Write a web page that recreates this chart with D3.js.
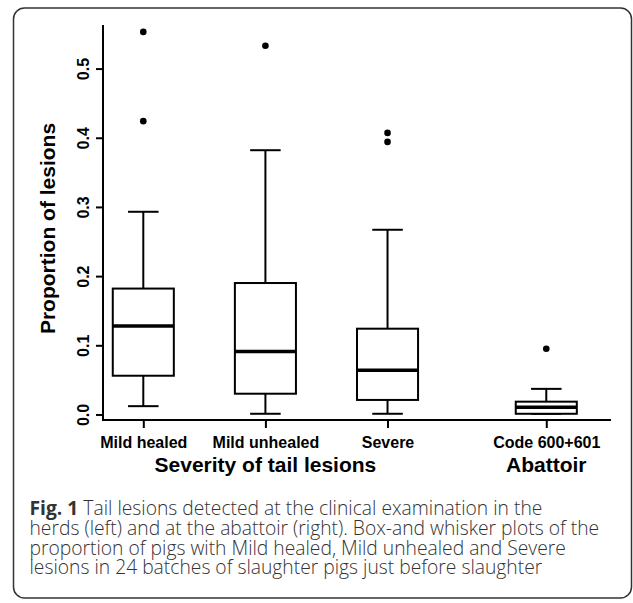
<!DOCTYPE html>
<html>
<head>
<meta charset="utf-8">
<script src="https://cdn.jsdelivr.net/npm/d3@7"></script>
<style>
  body { margin: 0; background: #fff; }
  svg { display: block; }
  .tick text { font-family: "Liberation Sans", Arial, sans-serif; font-weight: bold; }
</style>
</head>
<body>
<div id="chart"></div>
<script>
// data
var categories = ["Mild healed", "Mild unhealed", "Severe", "Code 600+601"];
var positions = [1, 2, 3, 4.3];
var whiskerLow = [0.012, 0.001, 0.001, 0.001];
var q1 = [0.056, 0.030, 0.021, 0.001];
var medians = [0.128, 0.091, 0.064, 0.0104];
var q3 = [0.182, 0.190, 0.124, 0.0185];
var whiskerHigh = [0.293, 0.382, 0.267, 0.037];
var outliers = [[0.553, 0.424], [0.533], [0.407, 0.394], [0.095]];
var yTicks = [0, 0.1, 0.2, 0.3, 0.4, 0.5];
var groupLabels = ["Severity of tail lesions", "Abattoir"];
var groupPositions = [2, 4.3];
var captionLines = [
  "Tail lesions detected at the clinical examination in the",
  "herds (left) and at the abattoir (right). Box-and whisker plots of the",
  "proportion of pigs with Mild healed, Mild unhealed and Severe",
  "lesions in 24 batches of slaughter pigs just before slaughter"
];

var svgWidth = 633;
var svgHeight = 603;
var font = "'Liberation Sans', Arial, sans-serif";

var svg = d3.select("#chart")
  .append("svg")
  .attr("width", svgWidth)
  .attr("height", svgHeight);

// rounded frame round the whole figure
svg.append("rect")
  .attr("x", 13.5)
  .attr("y", 8)
  .attr("width", 618)
  .attr("height", 590)
  .attr("rx", 11)
  .attr("fill", "none")
  .attr("stroke", "#333")
  .attr("stroke-width", 1.5);

// scales
var x = d3.scaleLinear()
  .domain([0.67, 4.83])
  .range([103, 611]);

var y = d3.scaleLinear()
  .domain([-0.008, 0.563])
  .range([420, 25]);

var boxHalf = 0.25;
var capHalf = 0.125;

// L-shaped axis lines
svg.append("path")
  .attr("d", `M${x.range()[0]},${y.range()[1]}V${y.range()[0]}H${x.range()[1]}`)
  .attr("fill", "none")
  .attr("stroke", "#000")
  .attr("stroke-width", 2);

// y axis
var leftAxis = d3.axisLeft(y)
  .tickValues(yTicks)
  .tickFormat(d3.format(".1f"))
  .tickSize(7)
  .tickSizeOuter(0);

var yAxis = svg.append("g")
  .attr("transform", `translate(${x.range()[0]}, 0)`)
  .call(leftAxis);
yAxis.select(".domain").remove();
yAxis.selectAll(".tick line").attr("stroke-width", 2);
yAxis.selectAll(".tick text")
  .attr("x", null)
  .attr("dy", null)
  .attr("text-anchor", "middle")
  .attr("transform", "translate(-14, 0) rotate(-90)")
  .attr("font-size", 16)
  .attr("fill", "#000");

// x axis
var bottomAxis = d3.axisBottom(x)
  .tickValues(positions)
  .tickFormat((d, i) => categories[i])
  .tickSize(8)
  .tickSizeOuter(0);

var xAxis = svg.append("g")
  .attr("transform", `translate(0, ${y.range()[0]})`)
  .call(bottomAxis);
xAxis.select(".domain").remove();
xAxis.selectAll(".tick line").attr("stroke-width", 2);
xAxis.selectAll(".tick text")
  .attr("y", 28)
  .attr("dy", null)
  .attr("font-size", 16)
  .attr("fill", "#000");

// axis titles
svg.append("text")
  .attr("transform", `translate(55, ${(y.range()[0] + y.range()[1]) / 2 + 6}) rotate(-90)`)
  .attr("text-anchor", "middle")
  .attr("font-family", font)
  .attr("font-weight", "bold")
  .attr("font-size", 21)
  .text("Proportion of lesions");

svg.selectAll(".group-label")
  .data(groupLabels)
  .enter()
  .append("text")
  .attr("class", "group-label")
  .attr("x", (d, i) => x(groupPositions[i]))
  .attr("y", 472)
  .attr("text-anchor", "middle")
  .attr("font-family", font)
  .attr("font-weight", "bold")
  .attr("font-size", 21)
  .text(d => d);

// boxes
var boxes = svg.selectAll(".box")
  .data(categories)
  .enter()
  .append("g")
  .attr("class", "box")
  .attr("fill", "none")
  .attr("stroke", "#000")
  .attr("stroke-width", 2);

// whiskers
boxes.append("line")
  .attr("x1", (d, i) => x(positions[i]))
  .attr("x2", (d, i) => x(positions[i]))
  .attr("y1", (d, i) => y(q3[i]))
  .attr("y2", (d, i) => y(whiskerHigh[i]));
boxes.append("line")
  .attr("x1", (d, i) => x(positions[i]))
  .attr("x2", (d, i) => x(positions[i]))
  .attr("y1", (d, i) => y(q1[i]))
  .attr("y2", (d, i) => y(whiskerLow[i]));
boxes.append("line")
  .attr("x1", (d, i) => x(positions[i] - capHalf))
  .attr("x2", (d, i) => x(positions[i] + capHalf))
  .attr("y1", (d, i) => y(whiskerHigh[i]))
  .attr("y2", (d, i) => y(whiskerHigh[i]));
boxes.append("line")
  .attr("x1", (d, i) => x(positions[i] - capHalf))
  .attr("x2", (d, i) => x(positions[i] + capHalf))
  .attr("y1", (d, i) => y(whiskerLow[i]))
  .attr("y2", (d, i) => y(whiskerLow[i]));

// box body
boxes.append("rect")
  .attr("x", (d, i) => x(positions[i] - boxHalf))
  .attr("width", (d, i) => x(positions[i] + boxHalf) - x(positions[i] - boxHalf))
  .attr("y", (d, i) => y(q3[i]))
  .attr("height", (d, i) => y(q1[i]) - y(q3[i]))
  .attr("fill", "#fff");

// median
boxes.append("line")
  .attr("x1", (d, i) => x(positions[i] - boxHalf))
  .attr("x2", (d, i) => x(positions[i] + boxHalf))
  .attr("y1", (d, i) => y(medians[i]))
  .attr("y2", (d, i) => y(medians[i]))
  .attr("stroke-width", 3.5);

// outliers
var points = [];
outliers.forEach(function(list, i) {
  list.forEach(function(v) {
    points.push({ pos: positions[i], value: v });
  });
});

svg.selectAll(".outlier")
  .data(points)
  .enter()
  .append("circle")
  .attr("class", "outlier")
  .attr("cx", d => x(d.pos))
  .attr("cy", d => y(d.value))
  .attr("r", 3.3)
  .attr("fill", "#000");

// caption (line spacing is as tight as in the reference)
var caption = svg.append("g")
  .attr("font-family", "'Open Sans', 'Noto Sans', sans-serif")
  .attr("font-weight", 300)
  .attr("fill", "#333")
  .attr("font-size", 16.5);

caption.selectAll("text")
  .data(captionLines)
  .enter()
  .append("text")
  .attr("x", 29.5)
  .attr("y", (d, i) => 515 + i * 19.8)
  .each(function(d, i) {
    var t = d3.select(this);
    if (i === 0) {
      t.append("tspan").attr("font-weight", "bold").text("Fig. 1");
      t.append("tspan").text(" " + d);
    } else {
      t.text(d);
    }
  });

// fit the caption width to the reference (second line ends near x = 600)
var lineTwo = caption.selectAll("text").nodes()[1];
var scaleFit = 570 / lineTwo.getComputedTextLength();
caption.attr("font-size", 16.5 * scaleFit);
</script>
</body>
</html>
